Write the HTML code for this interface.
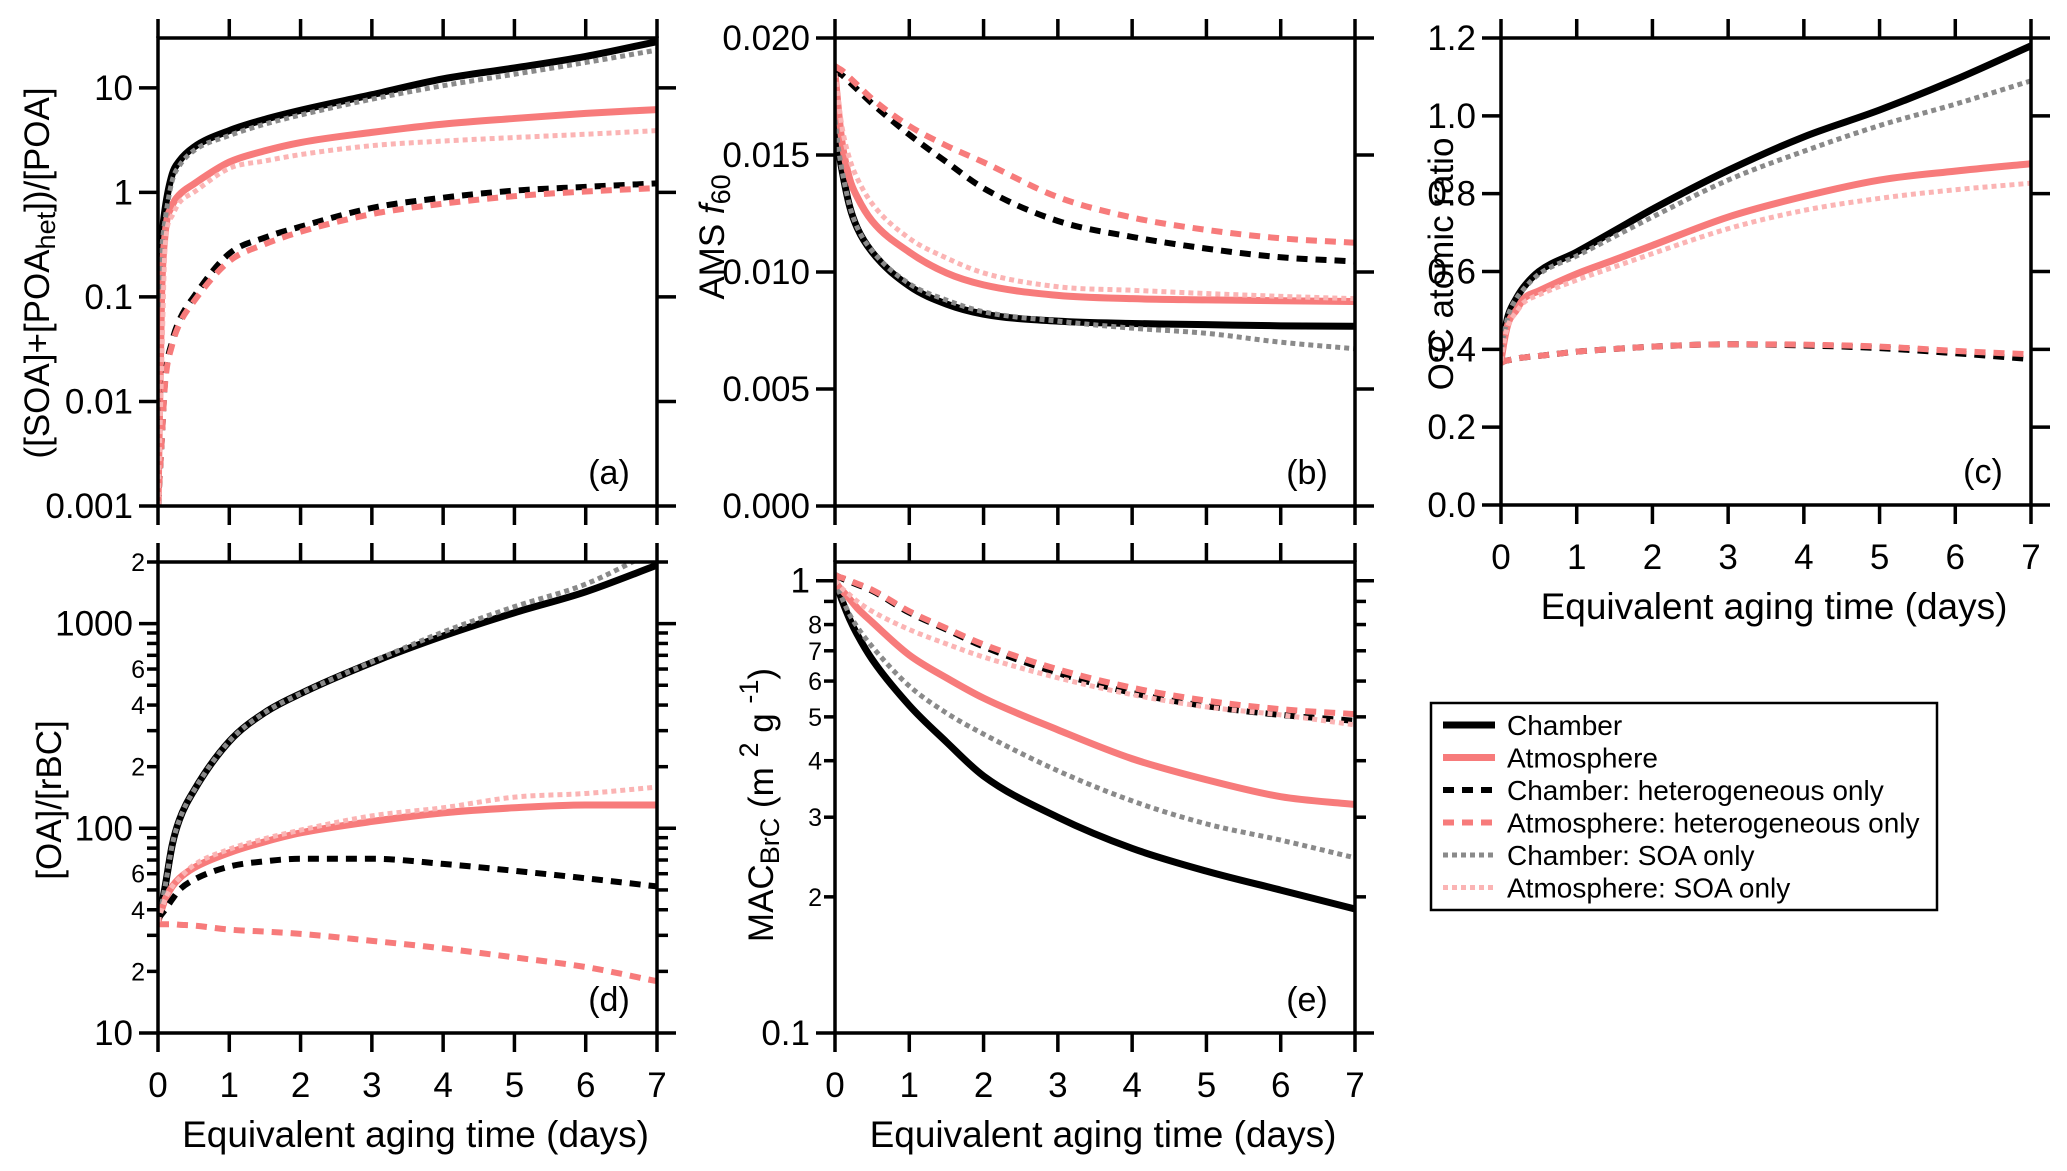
<!DOCTYPE html>
<html><head><meta charset="utf-8"><style>
html,body{margin:0;padding:0;background:#fff;}
svg{display:block;font-family:"Liberation Sans",Arial,sans-serif;}
</style></head><body>
<svg id="fig" width="2067" height="1171" viewBox="0 0 2067 1171" xmlns="http://www.w3.org/2000/svg">
<rect width="2067" height="1171" fill="#fff"/>
</svg>
<script>
// shared x (equivalent aging time, days)
const days = [0,0.05,0.1,0.2,0.3,0.5,1,1.5,2,3,4,5,6,7];
const xTicks = [0,1,2,3,4,5,6,7];
const seriesNames = ["Chamber","Atmosphere","Chamber: heterogeneous only","Atmosphere: heterogeneous only","Chamber: SOA only","Atmosphere: SOA only"];

// panel (a)
const aChamber = [0.12,0.35,0.7,1.5,2.0,2.7,3.9,5.0,6.1,8.6,12.2,15.5,20,27.7];
const aAtmos   = [0.001,0.1,0.4,0.75,0.95,1.2,1.95,2.5,3.0,3.75,4.5,5.1,5.7,6.2];
const aChHet   = [0.001,0.004,0.016,0.038,0.06,0.1,0.26,0.37,0.47,0.71,0.89,1.04,1.13,1.22];
const aAtHet   = [0.001,0.004,0.015,0.035,0.055,0.09,0.22,0.32,0.42,0.62,0.78,0.92,1.02,1.1];
const aChSOA   = [0.08,0.28,0.55,1.3,1.8,2.5,3.5,4.5,5.5,7.8,10.5,13.5,17.5,23];
const aAtSOA   = [0.001,0.02,0.3,0.6,0.8,1.0,1.7,2.0,2.3,2.8,3.1,3.35,3.6,3.9];
const aTickVals = [0.001,0.01,0.1,1,10];
const aTickLabels = ["0.001","0.01","0.1","1","10"];
// panel (b)
const bChamber = [0.0165,0.0152,0.01425,0.01277,0.01188,0.01085,0.0094,0.00863,0.0082,0.0079,0.0078,0.00775,0.0077,0.00768];
const bAtmos   = [0.0185,0.0168,0.01542,0.01395,0.0132,0.01218,0.01085,0.00996,0.00945,0.009,0.00886,0.00881,0.00877,0.00874];
const bChHet   = [0.0186,0.0185,0.0184,0.0181,0.0178,0.0172,0.01587,0.0147,0.01358,0.01218,0.0115,0.0110,0.01063,0.01045];
const bAtHet   = [0.0188,0.0187,0.0186,0.0183,0.0180,0.0174,0.01624,0.0154,0.01469,0.0132,0.01233,0.0118,0.01144,0.01125];
const bChSOA   = [0.0165,0.0152,0.01425,0.0128,0.0119,0.0109,0.0095,0.0088,0.0083,0.0079,0.0076,0.00738,0.0070,0.00672];
const bAtSOA   = [0.0185,0.0172,0.0161,0.0148,0.0140,0.01292,0.01144,0.0106,0.00996,0.00937,0.00922,0.00908,0.00896,0.00886];
const bTickVals = [0,0.005,0.01,0.015,0.02];
const bTickLabels = ["0.000","0.005","0.010","0.015","0.020"];
// panel (c)
const cChamber = [0.40,0.45,0.49,0.53,0.56,0.60,0.65,0.705,0.76,0.86,0.946,1.015,1.093,1.18];
const cAtmos   = [0.37,0.43,0.47,0.50,0.53,0.55,0.594,0.63,0.667,0.74,0.793,0.835,0.858,0.877];
const cChHet   = [0.365,0.37,0.372,0.376,0.379,0.383,0.394,0.401,0.407,0.413,0.41,0.403,0.39,0.375];
const cAtHet   = [0.365,0.37,0.372,0.376,0.379,0.383,0.394,0.401,0.407,0.413,0.412,0.407,0.396,0.387];
const cChSOA   = [0.40,0.45,0.49,0.53,0.555,0.593,0.64,0.69,0.74,0.835,0.909,0.975,1.03,1.09];
const cAtSOA   = [0.37,0.43,0.465,0.495,0.52,0.54,0.578,0.612,0.646,0.71,0.757,0.788,0.81,0.827];
const cTickVals = [0,0.2,0.4,0.6,0.8,1.0,1.2];
const cTickLabels = ["0.0","0.2","0.4","0.6","0.8","1.0","1.2"];
// panel (d)
const dChamber = [35,42,52,83,110,152,266,368,455,645,870,1130,1430,1930];
const dAtmos   = [35,40,45,52,57,64,76,86,95,108,119,126,130,130];
const dChHet   = [36,38,40,45,50,56,65,69,71,71,67,62,57,52];
const dAtHet   = [34,34,34,34,33.8,33.5,32,31.3,30.5,28.2,25.9,23.4,21,17.9];
const dChSOA   = [35,42,52,83,110,152,266,368,455,650,910,1210,1560,2300];
const dAtSOA   = [35,40,45,52,57,66,79,89,98,115,126,142,148,159];
const dTickVals = [10,100,1000];
const dTickLabels = ["10","100","1000"];
const dMinorLabelVals = [20,40,60,200,400,600,2000];
const dMinorLabels = ["2","4","6","2","4","6","2"];
// panel (e)
const eChamber = [1.0,0.95,0.9,0.82,0.76,0.67,0.53,0.44,0.37,0.30,0.256,0.228,0.207,0.188];
const eAtmos   = [1.0,0.97,0.95,0.91,0.87,0.81,0.685,0.61,0.55,0.468,0.404,0.363,0.333,0.32];
const eChHet   = [1.03,1.02,1.01,0.995,0.98,0.95,0.85,0.78,0.715,0.625,0.565,0.528,0.505,0.49];
const eAtHet   = [1.03,1.02,1.015,1.0,0.985,0.955,0.856,0.785,0.723,0.637,0.58,0.543,0.52,0.507];
const eChSOA   = [1.0,0.95,0.91,0.84,0.79,0.715,0.585,0.51,0.458,0.38,0.326,0.29,0.267,0.244];
const eAtSOA   = [1.0,0.98,0.96,0.93,0.9,0.856,0.78,0.725,0.678,0.61,0.56,0.526,0.505,0.48];
const eTickVals = [0.1,1];
const eTickLabels = ["0.1","1"];
const eMinorLabelVals = [0.2,0.3,0.4,0.5,0.6,0.7,0.8];
const eMinorLabels = ["2","3","4","5","6","7","8"];

const NS = "http://www.w3.org/2000/svg";
const svg = document.getElementById("fig");
const styles = [
  {c:"#000000", w:7, d:null},
  {c:"#f77b7b", w:7, d:null},
  {c:"#000000", w:6, d:"11 8"},
  {c:"#f77b7b", w:6, d:"11 8"},
  {c:"#8a8a8a", w:5, d:"5 4"},
  {c:"#fbb4b4", w:5, d:"5 4"}
];
const keys = ["chamber","atmosphere","chamber-het","atmosphere-het","chamber-soa","atmosphere-soa"];
function mk(tag, attrs, parent){
  const e = document.createElementNS(NS, tag);
  for (const k in attrs) e.setAttribute(k, attrs[k]);
  (parent||svg).appendChild(e);
  return e;
}
function txt(str, x, y, size, anchor, parent, name){
  const t = mk("text", {x:x, y:y, "font-size":size, "text-anchor":anchor, fill:"#000"}, parent);
  t.textContent = str;
  
  
  return t;
}
function monoPath(pts){
  const n = pts.length; if (n<2) return "";
  const dx=[], m=[], s=[];
  for (let i=0;i<n-1;i++){ dx[i]=pts[i+1][0]-pts[i][0]; s[i]=(pts[i+1][1]-pts[i][1])/dx[i]; }
  m[0]=s[0]; m[n-1]=s[n-2];
  for (let i=1;i<n-1;i++){ m[i] = (s[i-1]*s[i]<=0)?0:(s[i-1]+s[i])/2; }
  for (let i=0;i<n-1;i++){
    if (s[i]===0){m[i]=0;m[i+1]=0;continue;}
    const a=m[i]/s[i], b=m[i+1]/s[i], h=a*a+b*b;
    if (h>9){const t=3/Math.sqrt(h); m[i]=t*a*s[i]; m[i+1]=t*b*s[i];}
  }
  let d = "M"+pts[0][0].toFixed(2)+","+pts[0][1].toFixed(2);
  for (let i=0;i<n-1;i++){
    const h=dx[i];
    d += " C"+(pts[i][0]+h/3).toFixed(2)+","+(pts[i][1]+m[i]*h/3).toFixed(2)+" "+(pts[i+1][0]-h/3).toFixed(2)+","+(pts[i+1][1]-m[i+1]*h/3).toFixed(2)+" "+pts[i+1][0].toFixed(2)+","+pts[i+1][1].toFixed(2);
  }
  return d;
}
function panel(cfg){
  const g = mk("g", {});
  
  
  const {L,R,T,B} = cfg;
  const xs = v => L + (v-0)/(7-0)*(R-L);
  const ys = cfg.log
    ? v => B - (Math.log10(v)-Math.log10(cfg.min))/(Math.log10(cfg.max)-Math.log10(cfg.min))*(B-T)
    : v => B - (v-cfg.min)/(cfg.max-cfg.min)*(B-T);
  const clipId = "clip-"+cfg.id;
  const cp = mk("clipPath", {id:clipId}, g);
  mk("rect", {x:L, y:T, width:R-L, height:B-T}, cp);
  const sg = mk("g", {"clip-path":"url(#"+clipId+")"}, g);
  
  
  cfg.series.forEach((arr, i) => {
    const pts = days.map((d,k)=>[xs(d), ys(arr[k])]);
    const st = styles[i];
    const p = mk("path", {d:monoPath(pts), fill:"none", stroke:st.c, "stroke-width":st.w, "stroke-linejoin":"round"}, sg);
    if (st.d) p.setAttribute("stroke-dasharray", st.d);
    
    
  });
  const fr = mk("rect", {x:L, y:T, width:R-L, height:B-T, fill:"none", stroke:"#000", "stroke-width":3.5}, g);
  
  
  const tk = mk("g", {stroke:"#000", "stroke-width":3.5}, g);
  
  
  xTicks.forEach(v => {
    const x = xs(v);
    mk("line", {x1:x, y1:T, x2:x, y2:T-19}, tk);
    mk("line", {x1:x, y1:B, x2:x, y2:B+19}, tk);
    if (cfg.xlabels) txt(String(v), x, B+64, 35, "middle", g, 'x-tick-label-'+cfg.id);
  });
  cfg.yTicks.forEach((v, i) => {
    const y = ys(v);
    mk("line", {x1:L, y1:y, x2:L-19, y2:y}, tk);
    mk("line", {x1:R, y1:y, x2:R+19, y2:y}, tk);
    txt(cfg.yLabels[i], L-25, y+12, 35, "end", g, 'y-tick-label-'+cfg.id);
  });
  if (cfg.log && cfg.minor){
    const lo = Math.floor(Math.log10(cfg.min)), hi = Math.ceil(Math.log10(cfg.max));
    for (let e=lo;e<hi;e++){
      for (let m=2;m<=9;m++){
        const v = m*Math.pow(10,e);
        if (v<cfg.min || v>cfg.max*1.001) continue;
        const y = ys(v);
        mk("line", {x1:L, y1:y, x2:L-11, y2:y}, tk);
        mk("line", {x1:R, y1:y, x2:R+11, y2:y}, tk);
      }
    }
    cfg.minorVals.forEach((v,i)=>{
      txt(cfg.minorLabels[i], L-13, ys(v)+9, 25, "end", g, 'y-minor-label-'+cfg.id);
    });
  }
  txt("("+cfg.id+")", R-48, B-22, 34, "middle", g, 'panel-label-'+cfg.id);
  if (cfg.xlabels){
    txt("Equivalent aging time (days)", (L+R)/2+8, B+114, 37, "middle", g, 'x-axis-title-'+cfg.id);
  }
  return {xs, ys, g};
}
panel({id:"a", L:158,R:657,T:38,B:506, log:true, min:0.001, max:30, yTicks:aTickVals, yLabels:aTickLabels,
  series:[aChamber,aAtmos,aChHet,aAtHet,aChSOA,aAtSOA]});
panel({id:"b", L:835,R:1355,T:38,B:506, log:false, min:0, max:0.02, yTicks:bTickVals, yLabels:bTickLabels,
  series:[bChamber,bAtmos,bChHet,bAtHet,bChSOA,bAtSOA]});
panel({id:"c", L:1501,R:2031,T:38,B:505, log:false, min:0, max:1.2, yTicks:cTickVals, yLabels:cTickLabels, xlabels:true,
  series:[cChamber,cAtmos,cChHet,cAtHet,cChSOA,cAtSOA]});
panel({id:"d", L:158,R:657,T:562,B:1033, log:true, min:10, max:2000, minor:true, yTicks:dTickVals, yLabels:dTickLabels,
  minorVals:dMinorLabelVals, minorLabels:dMinorLabels, xlabels:true,
  series:[dChamber,dAtmos,dChHet,dAtHet,dChSOA,dAtSOA]});
panel({id:"e", L:835,R:1355,T:562,B:1033, log:true, min:0.1, max:1.1, minor:true, yTicks:eTickVals, yLabels:eTickLabels,
  minorVals:eMinorLabelVals, minorLabels:eMinorLabels, xlabels:true,
  series:[eChamber,eAtmos,eChHet,eAtHet,eChSOA,eAtSOA]});

// legend
const lg = mk("g", {});


const lb = mk("rect", {x:1431, y:703, width:506, height:207, fill:"#fff", stroke:"#000", "stroke-width":2.5}, lg);


seriesNames.forEach((nm, i) => {
  const y = 725 + i*32.5;
  const st = styles[i];
  const ln = mk("line", {x1:1443, y1:y, x2:1495, y2:y, stroke:st.c, "stroke-width":st.w}, lg);
  if (st.d) ln.setAttribute("stroke-dasharray", st.d);
  
  
  txt(nm, 1507, y+10, 28, "start", lg, 'legend-entry-'+keys[i]);
});
</script>
<script>
(function(){
  const svg = document.getElementById("fig");
  const NS = "http://www.w3.org/2000/svg";
  function title(x, y, parts, name){
    const t = document.createElementNS(NS, "text");
    t.setAttribute("transform", "translate("+x+","+y+") rotate(-90)");
    t.setAttribute("text-anchor", "middle");
    t.setAttribute("font-size", "35");
    
    
    parts.forEach(p => {
      const s = document.createElementNS(NS, "tspan");
      s.textContent = p.t;
      if (p.sub){ s.setAttribute("baseline-shift", "-22%"); s.setAttribute("font-size", "27"); }
      if (p.sup){ s.setAttribute("baseline-shift", "55%"); s.setAttribute("font-size", "27"); }
      if (p.it){ s.setAttribute("font-style", "italic"); }
      t.appendChild(s);
    });
    svg.appendChild(t);
  }
  title(49, 273, [{t:"([SOA]+[POA"},{t:"het",sub:1},{t:"])/[POA]"}], "y-axis-title-a");
  title(724, 237, [{t:"AMS "},{t:"f",it:1},{t:"60",sub:1}], "y-axis-title-b");
  title(1453, 264, [{t:"O:C atomic ratio"}], "y-axis-title-c");
  title(61, 800, [{t:"[OA]/[rBC]"}], "y-axis-title-d");
  title(773, 805, [{t:"MAC"},{t:"BrC",sub:1},{t:" (m "},{t:"2",sup:1},{t:" g "},{t:"-1",sup:1},{t:")"}], "y-axis-title-e");
})();
</script>
</body></html>
